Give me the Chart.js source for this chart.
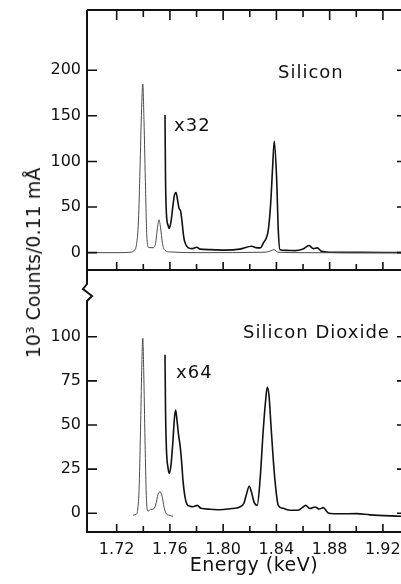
<!DOCTYPE html>
<html>
<head>
<meta charset="utf-8">
<script src="https://cdn.jsdelivr.net/npm/chart.js@4.4.1/dist/chart.umd.min.js"></script>
<style>
  html, body { margin: 0; padding: 0; background: #fff; }
  #wrap { position: relative; width: 401px; height: 584px; overflow: hidden; }
  #topChart { position: absolute; left: 0; top: 0; }
  #botChart { position: absolute; left: 0; top: 270px; }
  #ytitle {
    position: absolute; left: 33px; top: 263px;
    transform: translate(-50%, -50%) rotate(-90deg);
    white-space: nowrap; font: 19px "DejaVu Sans", sans-serif; color: #111;
  }
  #xtitle {
    position: absolute; left: 254px; top: 564px;
    transform: translate(-50%, -50%);
    white-space: nowrap; font: 19px "DejaVu Sans", sans-serif; letter-spacing: 0.5px; color: #111;
  }
</style>
</head>
<body>
<div id="wrap">
  <canvas id="topChart" width="401" height="280"></canvas>
  <canvas id="botChart" width="401" height="314"></canvas>
  <div id="ytitle">10³ Counts/0.11 mÅ</div>
  <div id="xtitle">Energy (keV)</div>
</div>
<script>
// Silicon, as measured (thin trace)
const siEnergy = [1.6977, 1.7225, 1.7300, 1.7330, 1.7349, 1.7364, 1.7375, 1.7387, 1.7396, 1.7405,
                  1.7417, 1.7428, 1.7443, 1.7473, 1.7492, 1.7507, 1.7518, 1.7529, 1.7544, 1.7563,
                  1.7601, 1.7826, 1.8314, 1.8352, 1.8382, 1.8412, 1.8577, 1.9336];
const siCounts = [0, 0, 0.5, 2.2, 9, 36, 91, 157, 185, 146,
                  69, 14, 5.5, 5.5, 10, 28, 36, 28, 10, 2.5,
                  0.8, 0, 0.5, 1.7, 3.3, 0.5, 0, -0.2];

// Silicon, x32 trace
const si32Energy = [1.7563, 1.7567, 1.7574, 1.7586, 1.7595, 1.7608, 1.7623, 1.7634, 1.7646, 1.7657,
                    1.7668, 1.7681, 1.7691, 1.7702, 1.7713, 1.7736, 1.7766, 1.7801, 1.7826, 1.7901,
                    1.8014, 1.8126, 1.8214, 1.8247, 1.8277, 1.8301, 1.8339, 1.8357, 1.8372, 1.8384,
                    1.8402, 1.8414, 1.8427, 1.8477, 1.8539, 1.8600, 1.8645, 1.8677, 1.8707, 1.8740,
                    1.8802, 1.9028, 1.9336];
const si32Counts = [151, 80, 42, 30, 26.5, 34, 52, 63, 66, 58,
                    49, 45, 34, 19, 11, 5.5, 4.4, 6, 3.9, 3.3,
                    2.8, 3.9, 7, 5.5, 5.2, 10.5, 25, 54, 95, 122,
                    80, 25, 3.3, 2.5, 2.2, 4, 7.8, 4.4, 5.2, 1.4,
                    0.5, 0.3, 0.2];

// Silicon dioxide, as measured (thin trace)
const sio2Energy = [1.7323, 1.7345, 1.7357, 1.7368, 1.7379, 1.7388, 1.7396, 1.7403, 1.7413, 1.7424,
                    1.7436, 1.7454, 1.7473, 1.7492, 1.7511, 1.7526, 1.7541, 1.7556, 1.7571, 1.7593,
                    1.7623];
const sio2Counts = [-1, -0.6, 1.7, 13, 47, 81, 99.3, 81, 41, 7.4,
                    1.1, 2.3, 2.3, 4.5, 10.8, 12.1, 9.7, 3.4, 0, -1.1,
                    -1.7];

// Silicon dioxide, x64 trace
const sio264Energy = [1.7563, 1.7567, 1.7574, 1.7586, 1.7595, 1.7608, 1.7623, 1.7634, 1.7643, 1.7653,
                      1.7665, 1.7676, 1.7687, 1.7698, 1.7713, 1.7728, 1.7751, 1.7773, 1.7806, 1.7833,
                      1.7901, 1.7976, 1.8051, 1.8126, 1.8156, 1.8175, 1.8196, 1.8213, 1.8232, 1.8256,
                      1.8277, 1.8301, 1.8319, 1.8331, 1.8344, 1.8359, 1.8374, 1.8389, 1.8414, 1.8449,
                      1.8502, 1.8562, 1.8592, 1.8620, 1.8652, 1.8690, 1.8722, 1.8752, 1.8790, 1.8877,
                      1.9003, 1.9103, 1.9336];
const sio264Counts = [89.8, 58.5, 35.8, 25.6, 22.6, 27.3, 41.5, 54, 58.5, 52.8,
                      44.3, 38.6, 30, 18.8, 9.3, 5.1, 4, 3.7, 4.5, 2.8,
                      2.3, 2, 2.6, 3.6, 5.7, 10.8, 15.3, 11.9, 6.3, 4.5,
                      18.8, 47, 64, 71.4, 67, 50, 33, 18.8, 4.5, 2.8,
                      1.7, 1.7, 3.1, 4.5, 2.7, 3.6, 2.4, 3.2, 0.2, -0.3,
                      -0.2, -0.9, -1.7];

// axis ticks
const energyLabels = [1.72, 1.76, 1.80, 1.84, 1.88, 1.92];
const energyMarks = [1.72, 1.74, 1.76, 1.78, 1.80, 1.82, 1.84, 1.86, 1.88, 1.90, 1.92];
const siTicks = [0, 50, 100, 150, 200];
const sio2Ticks = [0, 25, 50, 75, 100];

const xRange = { min: 1.6977, max: 1.9336 };

Chart.defaults.font.family = '"DejaVu Sans", sans-serif';
Chart.defaults.color = '#111';

const pts = (xs, ys) => xs.map((x, i) => ({ x: x, y: ys[i] }));
const isMajor = e => Math.round(e * 100) % 4 === 0;

const thin = { borderColor: '#4a4a4a', borderWidth: 1, pointRadius: 0, cubicInterpolationMode: 'monotone' };
const thick = { borderColor: '#111', borderWidth: 1.6, pointRadius: 0, cubicInterpolationMode: 'monotone' };

// frame, inward ticks, axis break and panel labels
const framePlugin = {
    id: 'frame',
    afterDatasetsDraw(chart, args, opts) {
        const { ctx, chartArea: { left, right, top, bottom }, scales: { x, y } } = chart;
        ctx.save();
        ctx.strokeStyle = '#111';
        ctx.lineWidth = 2;
        ctx.beginPath();
        if (opts.panel === 'top') {
            ctx.moveTo(left, top); ctx.lineTo(right, top);
            ctx.moveTo(left, top); ctx.lineTo(left, bottom);
            ctx.moveTo(left - 1, bottom); ctx.lineTo(right, bottom);
        } else {
            // axis break
            ctx.moveTo(left, top); ctx.lineTo(left, top + 14);
            ctx.lineTo(left - 4, top + 19);
            ctx.lineTo(left + 5, top + 26);
            ctx.lineTo(left, top + 31);
            ctx.lineTo(left, bottom);
            ctx.moveTo(left - 1, bottom); ctx.lineTo(right, bottom);
        }
        ctx.stroke();

        ctx.lineWidth = 1.6;
        ctx.beginPath();
        energyMarks.forEach(e => {
            const px = x.getPixelForValue(e);
            if (opts.panel === 'top') {
                ctx.moveTo(px, top); ctx.lineTo(px, top + (isMajor(e) ? 10 : 7));
            }
            ctx.moveTo(px, bottom); ctx.lineTo(px, bottom - (isMajor(e) ? 8 : 6));
        });
        opts.yTicks.forEach(v => {
            const py = y.getPixelForValue(v);
            ctx.moveTo(left, py); ctx.lineTo(left + 10, py);
            ctx.moveTo(right - 4, py); ctx.lineTo(right, py);
        });
        ctx.stroke();

        ctx.fillStyle = '#111';
        ctx.font = '18px "DejaVu Sans", sans-serif';
        ctx.textBaseline = 'middle';
        ctx.textAlign = 'left';
        if ('letterSpacing' in ctx) ctx.letterSpacing = '1px';
        opts.notes.forEach(n => {
            ctx.fillText(n.text, x.getPixelForValue(n.e), y.getPixelForValue(n.v));
        });
        ctx.restore();
    }
};

const yAxis = (min, max, ticks) => ({
    type: 'linear',
    min: min,
    max: max,
    grid: { display: false, drawTicks: false },
    border: { display: false },
    ticks: { font: { size: 16 }, padding: 6, callback: v => String(v) },
    afterBuildTicks: s => { s.ticks = ticks.map(v => ({ value: v })); },
    afterFit: s => { s.width = 87; s.paddingTop = 0; s.paddingBottom = 0; }
});

new Chart(document.getElementById('topChart'), {
    type: 'line',
    data: {
        datasets: [
            { label: 'Silicon', data: pts(siEnergy, siCounts), ...thin },
            { label: 'Silicon x32', data: pts(si32Energy, si32Counts), ...thick }
        ]
    },
    options: {
        responsive: false,
        animation: false,
        layout: { padding: { top: 10, bottom: 10, left: 0, right: 0 } },
        plugins: {
            legend: { display: false },
            tooltip: { enabled: false },
            frame: {
                panel: 'top',
                yTicks: siTicks,
                notes: [
                    { text: 'Silicon', e: 1.8412, v: 197 },
                    { text: 'x32', e: 1.7631, v: 139 }
                ]
            }
        },
        scales: {
            x: { type: 'linear', display: false, ...xRange },
            y: yAxis(-19, 266, siTicks)
        }
    },
    plugins: [framePlugin]
});

new Chart(document.getElementById('botChart'), {
    type: 'line',
    data: {
        datasets: [
            { label: 'Silicon Dioxide', data: pts(sio2Energy, sio2Counts), ...thin },
            { label: 'Silicon Dioxide x64', data: pts(sio264Energy, sio264Counts), ...thick }
        ]
    },
    options: {
        responsive: false,
        animation: false,
        layout: { padding: 0 },
        plugins: {
            legend: { display: false },
            tooltip: { enabled: false },
            frame: {
                panel: 'bottom',
                yTicks: sio2Ticks,
                notes: [
                    { text: 'Silicon Dioxide', e: 1.8149, v: 102 },
                    { text: 'x64', e: 1.7646, v: 79.4 }
                ]
            }
        },
        scales: {
            x: {
                type: 'linear',
                ...xRange,
                grid: { display: false, drawTicks: false },
                border: { display: false },
                ticks: {
                    font: { size: 16 }, padding: 8, maxRotation: 0, autoSkip: false,
                    callback: v => v.toFixed(2)
                },
                afterBuildTicks: s => { s.ticks = energyLabels.map(v => ({ value: v })); },
                afterFit: s => { s.height = 52; s.paddingLeft = 0; s.paddingRight = 0; }
            },
            y: yAxis(-10.6, 137.8, sio2Ticks)
        }
    },
    plugins: [framePlugin]
});
</script>
</body>
</html>
